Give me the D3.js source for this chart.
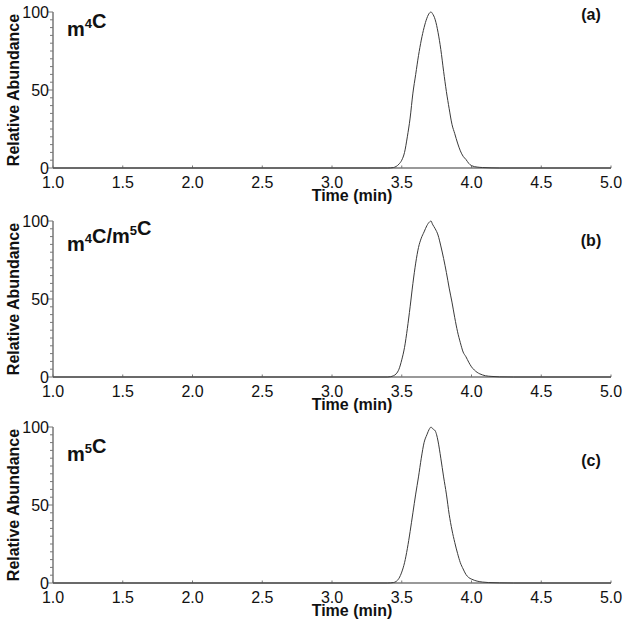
<!DOCTYPE html>
<html><head><meta charset="utf-8">
<script src="https://cdn.jsdelivr.net/npm/d3@7"></script>
<style>body{margin:0;background:#fff}svg{display:block}text{font-family:"Liberation Sans",Arial,sans-serif}</style>
</head><body>
<svg id="c" width="628" height="626"></svg>
<script>
// ---- data ----
const xTicks = [1.0, 1.5, 2.0, 2.5, 3.0, 3.5, 4.0, 4.5, 5.0];
const yTicksMajor = [0, 50, 100];
const panelNames = ["m4C", "m4C/m5C", "m5C"];
const panelLetters = ["(a)", "(b)", "(c)"];

const timeA  = [1.0, 3.40, 3.44, 3.46, 3.48, 3.50, 3.52, 3.54, 3.56, 3.58, 3.60, 3.62, 3.64, 3.66, 3.68, 3.70, 3.71, 3.72, 3.74, 3.76, 3.78, 3.80, 3.82, 3.84, 3.86, 3.88, 3.90, 3.92, 3.94, 3.96, 3.98, 4.00, 4.04, 4.08, 4.14, 4.20, 5.0];
const abundA = [0,   0,    0.3,  1,    2.5,  5,    10,   20,   32,   48,   60,   72,   82,   90,   96,   99.5, 100,  99,   95,   87,   76,   62,   49,   38,   28,   22,   16,   11,   7.5,  5.5,  3,    1.5,  0.6,  0.3,  0.1,  0,    0];

const timeB  = [1.0, 3.40, 3.42, 3.44, 3.46, 3.48, 3.50, 3.52, 3.54, 3.56, 3.58, 3.60, 3.62, 3.64, 3.66, 3.68, 3.70, 3.71, 3.72, 3.74, 3.76, 3.78, 3.80, 3.82, 3.84, 3.86, 3.88, 3.90, 3.92, 3.94, 3.96, 3.98, 4.00, 4.02, 4.04, 4.06, 4.08, 4.10, 4.14, 4.20, 4.30, 5.0];
const abundB = [0,   0,    0.2,  0.8,  2,    5,    11,   19,   31,   45,   60,   73,   83,   89,   93,   97,   99.5, 100,  98,   95,   91,   84,   76,   67,   57,   48,   38,   29,   22,   16,   13,   9.5,  6.5,  4.5,  3,    2,    1.3,  0.8,  0.4,  0.1,  0,    0];

const timeC  = [1.0, 3.40, 3.44, 3.46, 3.48, 3.50, 3.52, 3.54, 3.56, 3.58, 3.60, 3.62, 3.64, 3.66, 3.68, 3.70, 3.71, 3.72, 3.74, 3.75, 3.76, 3.78, 3.80, 3.82, 3.84, 3.86, 3.88, 3.90, 3.92, 3.94, 3.96, 3.98, 4.00, 4.04, 4.08, 4.12, 4.20, 4.30, 5.0];
const abundC = [0,   0,    0.3,  1,    3,    7,    13,   22,   33,   45,   57,   68,   80,   90,   95,   99,   100,  99,   97.5, 95,   91,   80,   68,   57,   44,   34,   26,   19,   13,   9,    5.5,  3.5,  2.5,  1.2,  0.6,  0.3,  0.1,  0,    0];

const series = [[timeA, abundA], [timeB, abundB], [timeC, abundC]];

// ---- layout ----
const panelTop = [12, 221, 427];
const panelH = 156;
const nameY = [36, 251, 461];
const letterY = [20, 246, 466];

const svg = d3.select("#c");
const x = d3.scaleLinear().domain([1, 5]).range([53, 611]);
const axisCol = "#777";

series.forEach(([t, v], i) => {
  const top = panelTop[i], bot = top + panelH;
  const y = d3.scaleLinear().domain([0, 100]).range([bot, top]);
  const g = svg.append("g");

  // y axis
  g.append("line").attr("x1", x(1)).attr("x2", x(1)).attr("y1", y(100)).attr("y2", y(0))
    .attr("stroke", axisCol).attr("stroke-width", 1.5);
  d3.range(0, 101, 5).forEach(k => {
    const maj = yTicksMajor.includes(k);
    g.append("line").attr("x1", x(1) - (maj ? 5 : 3)).attr("x2", x(1))
      .attr("y1", y(k)).attr("y2", y(k)).attr("stroke", axisCol).attr("stroke-width", 1);
  });
  yTicksMajor.forEach(k => {
    g.append("text").attr("x", 49).attr("y", y(k)).attr("dy", "0.36em")
      .attr("text-anchor", "end").attr("font-size", 16).attr("fill", "#111").text(k);
  });

  // x axis
  g.append("line").attr("x1", x(1)).attr("x2", x(5)).attr("y1", bot).attr("y2", bot)
    .attr("stroke", axisCol).attr("stroke-width", 1.5);
  xTicks.forEach(k => {
    g.append("line").attr("x1", x(k)).attr("x2", x(k)).attr("y1", bot).attr("y2", bot - 2.5)
      .attr("stroke", axisCol).attr("stroke-width", 1);
    g.append("text").attr("x", x(k)).attr("y", bot + 19.5).attr("text-anchor", "middle")
      .attr("font-size", 16).attr("fill", "#111").text(k.toFixed(1));
  });
  g.append("text").attr("x", 352).attr("y", bot + 32.5).attr("text-anchor", "middle")
    .attr("font-size", 16).attr("font-weight", "bold").attr("fill", "#111").text("Time (min)");

  // y title
  g.append("text").attr("transform", `translate(18.5,${(top + bot) / 2}) rotate(-90)`)
    .attr("text-anchor", "middle").attr("font-size", 16).attr("font-weight", "bold")
    .attr("fill", "#111").text("Relative Abundance");

  // curve
  const pts = t.map((tt, j) => [tt, v[j]]);
  g.append("path").datum(pts)
    .attr("d", d3.line().x(d => x(d[0])).y(d => y(d[1])).curve(d3.curveMonotoneX))
    .attr("fill", "none").attr("stroke", "#3a3a3a").attr("stroke-width", 1);

  // compound label with superscripts
  const lab = g.append("text").attr("x", 67).attr("y", nameY[i])
    .attr("font-size", 20).attr("font-weight", "bold").attr("fill", "#111");
  const parts = panelNames[i].split(/(\d)/).filter(s => s.length);
  parts.forEach(p => {
    if (/\d/.test(p)) {
      lab.append("tspan").attr("font-size", 13).attr("dy", -8).text(p);
      lab.append("tspan").attr("dy", 8).text("");
    } else {
      lab.append("tspan").text(p);
    }
  });

  // panel letter
  g.append("text").attr("x", 591).attr("y", letterY[i]).attr("text-anchor", "middle")
    .attr("font-size", 16).attr("font-weight", "bold").attr("fill", "#111").text(panelLetters[i]);
});
</script>
</body></html>
